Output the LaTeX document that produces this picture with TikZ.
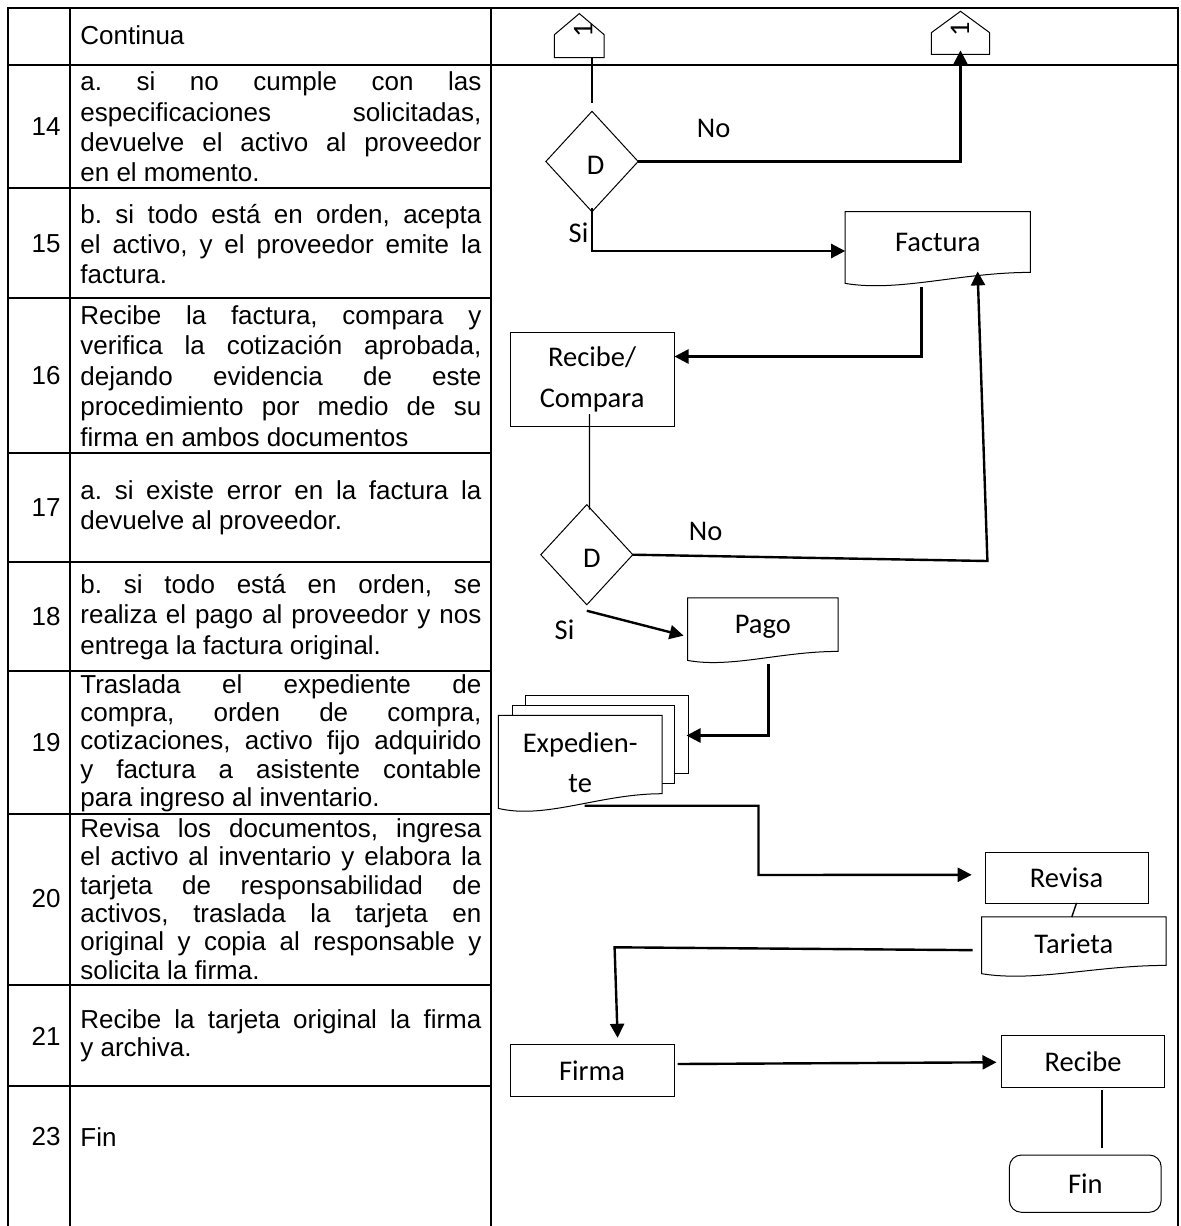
\documentclass[tikz,border=0pt]{standalone}
\usepackage{fontspec}
\setmainfont{Liberation Sans}
\newfontfamily\calfont{Carlito}
\usetikzlibrary{arrows.meta,calc}
\AtBeginDocument{\tolerance=9999 \hyphenpenalty=10000 \frenchspacing}
\newcommand\docoutline[3]{\draw[shp] (#1.north west) -- (#1.north east) -- (#1.south east) .. controls ($(#1.south east)!0.38!(#1.south west)$) and ($(#1.south west)!0.29!(#1.south east)+(0,#3)$) .. ($(#1.south west)+(0,#2)$) -- cycle;}
\begin{document}
\begin{tikzpicture}[x=0.5pt,y=-0.5pt,
  tbl/.style={line width=1.1pt},
  numtxt/.style={anchor=east,inner sep=0pt,font=\fontsize{13}{15.2}\selectfont},
  desc/.style={anchor=west,inner sep=0pt,text width=200.5pt,align=justify,font=\fontsize{13}{15.2}\selectfont},
  descb/.style={desc,font=\fontsize{13}{14.15}\selectfont},
  box/.style={draw,line width=0.5pt,fill=white,inner sep=0pt,font=\calfont\fontsize{14.25}{20.5}\selectfont,align=center},
  ghost/.style={inner sep=0pt},
  shp/.style={draw,line width=0.5pt,fill=white},
  lbl/.style={inner sep=0pt,font=\calfont\fontsize{14.25}{20}\selectfont,align=center},
  conn/.style={line width=1.2pt},
  arr/.style={conn,-{Triangle[length=7pt,width=7pt]}},
  thinc/.style={line width=0.7pt},
]
\useasboundingbox (0,0) rectangle (1180,1226);
% ---------- table ----------
\draw[tbl] (8,1226) -- (8,8) -- (1178,8) -- (1178,1226);
\draw[tbl] (70,8) -- (70,1226);
\draw[tbl] (491,8) -- (491,1226);
\draw[tbl] (8,65) -- (491,65);
\draw[line width=0.7pt] (491,65) -- (1178,65);
\foreach \yy in {188,298,453,562,671,814,985,1086} \draw[tbl] (8,\yy) -- (491,\yy);

\node[desc] (t0) at (80,35) {Continua};
\node[numtxt] (n14) at (61,127) {14};
\node[desc] (t14) at (80,127) {a. si no cumple con las\linebreak especificaciones solicitadas,\linebreak devuelve el activo al proveedor\linebreak en el momento.};
\node[numtxt] (n15) at (61,244) {15};
\node[desc] (t15) at (80,244) {b. si todo está en orden, acepta\linebreak el activo, y el proveedor emite la\linebreak factura.};
\node[numtxt] (n16) at (61,376) {16};
\node[desc] (t16) at (80,376) {Recibe la factura, compara y\linebreak verifica la cotización aprobada,\linebreak dejando evidencia de este\linebreak procedimiento por medio de su\linebreak firma en ambos documentos};
\node[numtxt] (n17) at (61,508) {17};
\node[desc] (t17) at (80,508) {a. si existe error en la factura la\linebreak devuelve al proveedor.};
\node[numtxt] (n18) at (61,617) {18};
\node[desc] (t18) at (80,617) {b. si todo está en orden, se\linebreak realiza el pago al proveedor y nos\linebreak entrega la factura original.};
\node[numtxt] (n19) at (61,743) {19};
\node[descb] (t19) at (80,743) {Traslada el expediente de\linebreak compra, orden de compra,\linebreak cotizaciones, activo fijo adquirido\linebreak y factura a asistente contable\linebreak para ingreso al inventario.};
\node[numtxt] (n20) at (61,899) {20};
\node[descb] (t20) at (80,899) {Revisa los documentos, ingresa\linebreak el activo al inventario y elabora la\linebreak tarjeta de responsabilidad de\linebreak activos, traslada la tarjeta en\linebreak original y copia al responsable y\linebreak solicita la firma.};
\node[numtxt] (n21) at (61,1036) {21};
\node[descb] (t21) at (80,1036) {Recibe la tarjeta original la firma\linebreak y archiva.};
\node[numtxt] (n23) at (61,1137) {23};
\node[descb] (t23) at (80,1137) {Fin};

% ---------- diagram: shape frames ----------
\node[ghost,minimum width=24.5pt,minimum height=21.65pt] (c1) at (579.3,35.65) {};
\node[ghost,minimum width=28.8pt,minimum height=21.15pt] (c2) at (960.5,32.85) {};
\node[ghost,minimum width=45.75pt,minimum height=49.8pt] (d1) at (592,161.5) {};
\node[ghost,minimum width=45.6pt,minimum height=49.65pt] (d2) at (586.8,554.7) {};
\node[ghost,minimum width=92.2pt,minimum height=30pt] (fact) at (937.8,242) {};
\node[ghost,minimum width=74.85pt,minimum height=26.35pt] (pago) at (762.85,624.65) {};
\node[ghost,minimum width=91.8pt,minimum height=23.85pt] (tar) at (1073.8,941.15) {};

\draw[shp] (c1.south west) -- (c1.south east) -- ($(c1.south east)+(0,-23)$) -- (c1.north) -- ($(c1.south west)+(0,-23)$) -- cycle;
\draw[shp] (c2.south west) -- (c2.south east) -- ($(c2.south east)+(0,-21.7)$) -- (c2.north) -- ($(c2.south west)+(0,-21.7)$) -- cycle;
\draw[shp] (d1.north) -- (d1.east) -- (d1.south) -- (d1.west) -- cycle;
\draw[shp] (d2.north) -- (d2.east) -- (d2.south) -- (d2.west) -- cycle;
\docoutline{fact}{11}{20}
\docoutline{pago}{9}{17}
\docoutline{tar}{8.3}{17}

\node[box,minimum width=81.4pt,minimum height=38.8pt] (expb) at (606.6,734.5) {};
\node[box,minimum width=81pt,minimum height=38.8pt] (expm) at (593,744.5) {};
\node[ghost,minimum width=81.45pt,minimum height=38.8pt] (expf) at (580.25,754.5) {};
\docoutline{expf}{14.7}{26}

\node[box,minimum width=81.9pt,minimum height=47.2pt] (rc) at (592.1,379.5) {Recibe/\\Compara};
\node[box,minimum width=81.4pt,minimum height=25.5pt] (rev) at (1066.6,877.8) {Revisa};
\node[box,minimum width=81.9pt,minimum height=26.2pt] (firma) at (592.1,1070.5) {Firma};
\node[box,minimum width=81.65pt,minimum height=25.8pt] (rec) at (1083.05,1061.5) {Recibe};
\node[box,rounded corners=6pt,minimum width=75.9pt,minimum height=28.65pt] (fin) at (1085.3,1183.65) {Fin};

% ---------- labels ----------
\node[lbl,rotate=90] (c1t) at (583.3,30.7) {1};
\node[lbl,rotate=90] (c2t) at (960,29.3) {1};
\node[lbl] (d1t) at (595.6,165.7) {D};
\node[lbl] (d2t) at (592,558.3) {D};
\node[lbl] (factl) at (fact.center) {Factura};
\node[lbl] (pagol) at ($(pago.center)+(0,2)$) {Pago};
\node[lbl] (tarl) at ($(tar.center)+(0,3)$) {Tarieta};
\node[lbl] (expl) at (580.2,763) {Expedien-\\te};
\node[lbl] (no1) at (713.6,128.3) {No};
\node[lbl] (si1) at (578.5,233) {Si};
\node[lbl] (no2) at (705.7,531.7) {No};
\node[lbl] (si2) at (564.5,629.3) {Si};

% ---------- connectors ----------
\coordinate (n2) at (987.4,561);
\coordinate (e2) at (758.5,875);
\coordinate (t1) at (614.6,947.3);
\draw[thinc] (c1.south -| d1.north) -- ($(d1.north)+(0,-8)$);
\draw[arr] (d1.east) -- (d1.east -| c2.south) -- ($(c2.south)+(0,-4)$);
\draw[arr] ($(d1.south)+(0,-4)$) |- ($(fact.west)+(0,9)$);
\draw[arr] ($(fact.south)+(-16.5,15)$) |- ($(rc.east)+(0,-23)$);
\draw[thinc] ($(rc.south)+(-2.6,-13)$) -- ($(d2.north)+(2.7,5)$);
\draw[arr] (d2.east) -- (n2) -- ($(fact.south east)+(-52.8,-1)$);
\draw[arr] ($(d2.south)+(0,6)$) -- ($(pago.west)+(-4,11)$);
\draw[arr] ($(pago.south)+(5.8,13)$) |- ($(expb.east)+(-2,1)$);
\draw[arr] ($(expf.south)+(4.4,12)$) -| (e2) -- ($(rev.west)+(-13,-3)$);
\draw[thinc] ($(rev.south)+(10,-1)$) -- ($(tar.north)+(-2,0)$);
\draw[arr] ($(tar.west)+(-9,9)$) -- (t1) -- ($(firma.north)+(25.5,-6)$);
\draw[arr] ($(firma.east)+(3,-6.5)$) -- ($(rec.west)+(-4.4,0.8)$);
\draw[thinc] ($(rec.south)+(18.75,2)$) -- ($(fin.north)+(16.5,-7)$);
\end{tikzpicture}
\end{document}
